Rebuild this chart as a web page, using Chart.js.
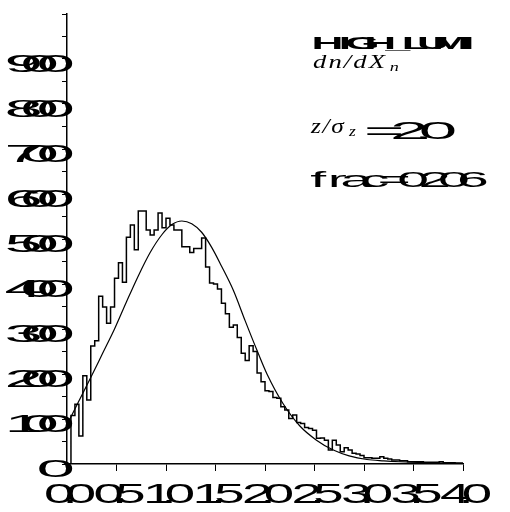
<!DOCTYPE html>
<html>
<head>
<meta charset="utf-8">
<script src="https://cdn.jsdelivr.net/npm/chart.js@4/dist/chart.umd.min.js"></script>
<style>
  html, body { margin: 0; padding: 0; background: #fff; }
  #wrap { width: 510px; height: 512px; }
</style>
</head>
<body>
<div id="wrap"><canvas id="c" width="510" height="512"></canvas></div>
<script>
// Histogram range and bin contents (100 bins between BIN_LO and BIN_HI)
const BIN_LO = 0.0;
const BIN_HI = 4.0;
const COUNTS = [
    0, 108, 133,  62, 196, 142, 262, 274, 373, 349,
  313, 349, 413, 447, 404, 504, 531, 476, 562, 562,
  520, 509, 520, 558, 525, 546, 531, 520, 520, 483,
  483, 470, 479, 479, 502, 438, 402, 400, 389, 357,
  334, 304, 309, 281, 246, 230, 263, 250, 202, 183,
  163, 161, 148, 146, 127, 120, 101, 109,  92,  90,
   81,  79,  75,  57,  58,  53,  31,  53,  42,  27,
   36,  31,  24,  22,  19,  14,  14,  13,  13,  16,
   13,  11,   9,   9,   7,   7,   5,   5,   5,   5,
    4,   4,   4,   4,   5,   3,   3,   3,   2,   2
];

// Fitted curve, sampled along x
const FIT_X = [0.02, 0.12, 0.24, 0.36, 0.48, 0.60, 0.72, 0.84, 0.96, 1.06,
               1.16, 1.26, 1.36, 1.46, 1.56, 1.68, 1.80, 1.92, 2.02, 2.18,
               2.35, 2.52, 2.69, 2.85, 3.03, 3.20, 3.36, 3.60, 3.80, 4.00];
const FIT_Y = [96, 140, 192, 246, 300, 360, 418, 470, 510, 532,
               540, 534, 515, 482, 440, 386, 318, 252, 200, 135,
               85, 53, 31, 18, 10, 7, 5, 3, 2, 1];

// Axis tick labels
const X_TICK_LABELS = ['0.0', '0.5', '1.0', '1.5', '2.0', '2.5', '3.0', '3.5', '4.0'];
const Y_TICK_LABELS = ['0', '100', '200', '300', '400', '500', '600', '700', '800', '900'];

// Annotation texts
const RUN_NAME = 'HIGH_LUMI';
const QUANTITY = ['dn/dX', 'n'];
const DEPTH = ['z/σ', 'z'];
const DEPTH_VALUE = '=2.0';
const FRAC_TEXT = 'frac=0.206';

const nBins = COUNTS.length;
const binW = (BIN_HI - BIN_LO) / nBins;
const histPoints = [{ x: BIN_LO, y: 0 }];
COUNTS.forEach((v, i) => histPoints.push({ x: BIN_LO + i * binW, y: v }));
histPoints.push({ x: BIN_HI, y: COUNTS[nBins - 1] });
const fitPoints = FIT_X.map((x, i) => ({ x: x, y: FIT_Y[i] }));

// Wide, tightly packed glyphs: each character is stretched horizontally
function squash(ctx, str, x, y, o) {
  ctx.save();
  ctx.font = o.font;
  ctx.fillStyle = '#000';
  ctx.textBaseline = 'alphabetic';
  ctx.textAlign = 'center';
  const w = ch => (ch === '.' ? (o.dot == null ? 0.15 : o.dot) : 1);
  const centers = [0];
  for (let i = 1; i < str.length; i++) {
    centers.push(centers[i - 1] + o.adv * (w(str[i - 1]) + w(str[i])) / 2);
  }
  const half = ch => ctx.measureText(ch).width * o.sx * 0.45;
  const left = centers[0] - half(str[0]);
  const right = centers[centers.length - 1] + half(str[str.length - 1]);
  let shift;
  if (o.align === 'right') shift = x - right;
  else if (o.align === 'center') shift = x - (left + right) / 2;
  else shift = x - left;
  for (let i = 0; i < str.length; i++) {
    ctx.save();
    ctx.translate(shift + centers[i], y);
    ctx.scale(o.sx, 1);
    ctx.fillText(str[i], 0, 0);
    ctx.restore();
  }
  ctx.restore();
}

// Italic math-style text with a subscript
function mathText(ctx, main, sub, x, y, size, subSize, subDy, sx, gap) {
  ctx.save();
  ctx.fillStyle = '#000';
  ctx.textAlign = 'left';
  ctx.textBaseline = 'alphabetic';
  ctx.font = 'italic ' + size + 'px "Liberation Serif"';
  ctx.letterSpacing = '1.5px';
  ctx.translate(x, y);
  ctx.scale(sx, 1);
  ctx.fillText(main, 0, 0);
  const wMain = ctx.measureText(main).width;
  ctx.font = 'italic ' + subSize + 'px "Liberation Serif"';
  ctx.fillText(sub, wMain + gap, subDy);
  ctx.restore();
}

const SANS = '"Liberation Sans"';

const labelPlugin = {
  id: 'axisAndNotes',
  afterDraw(chart) {
    const ctx = chart.ctx;
    const xs = chart.scales.x, ys = chart.scales.y;
    X_TICK_LABELS.forEach(lbl => {
      const px = xs.getPixelForValue(parseFloat(lbl));
      squash(ctx, lbl, px + 3, 503, { font: '28px ' + SANS, sx: 1.95, adv: 19, align: 'center' });
    });
    Y_TICK_LABELS.forEach(lbl => {
      const py = ys.getPixelForValue(parseFloat(lbl));
      squash(ctx, lbl, 73, py + 12.5, { font: '23px ' + SANS, sx: 3.0, adv: 16, align: 'right' });
    });
    squash(ctx, RUN_NAME, 313, 49, { font: 'bold 17px ' + SANS, sx: 2.6, adv: 17.6, align: 'left' });
    mathText(ctx, QUANTITY[0], QUANTITY[1], 313, 68, 19, 13, 3, 1.4, 2);
    mathText(ctx, DEPTH[0], DEPTH[1], 311, 133, 22, 15, 3, 1.15, 3);
    squash(ctx, DEPTH_VALUE, 366, 139, { font: '23px ' + SANS, sx: 3.0, adv: 25, align: 'left' });
    squash(ctx, FRAC_TEXT, 311, 187, { font: '22px ' + SANS, sx: 2.6, adv: 19, align: 'left' });
  }
};

new Chart(document.getElementById('c'), {
  type: 'line',
  data: {
    datasets: [
      {
        label: 'hist',
        data: histPoints,
        stepped: 'before',
        borderColor: '#000',
        borderWidth: 1.5,
        pointRadius: 0,
        fill: false
      },
      {
        label: 'fit',
        data: fitPoints,
        cubicInterpolationMode: 'monotone',
        borderColor: '#000',
        borderWidth: 1.2,
        pointRadius: 0,
        fill: false
      }
    ]
  },
  options: {
    responsive: false,
    animation: false,
    devicePixelRatio: 1,
    layout: { padding: { left: 62, right: 47, top: 14, bottom: 41 } },
    plugins: { legend: { display: false }, tooltip: { enabled: false } },
    scales: {
      x: {
        type: 'linear',
        min: BIN_LO,
        max: BIN_HI,
        ticks: { display: false, stepSize: 0.5 },
        grid: { display: true, drawOnChartArea: false, drawTicks: true, tickLength: 7, color: '#000', lineWidth: 1 },
        border: { display: true, color: '#000', width: 1.5 },
        afterFit(s) { s.height = 7; }
      },
      y: {
        type: 'linear',
        min: 0,
        max: 1000,
        ticks: { display: false, stepSize: 50 },
        grid: { display: true, drawOnChartArea: false, drawTicks: true, tickLength: 5, color: '#000', lineWidth: 1 },
        border: { display: true, color: '#000', width: 1.5 },
        afterFit(s) { s.width = 5; }
      }
    }
  },
  plugins: [labelPlugin]
});
</script>
</body>
</html>
